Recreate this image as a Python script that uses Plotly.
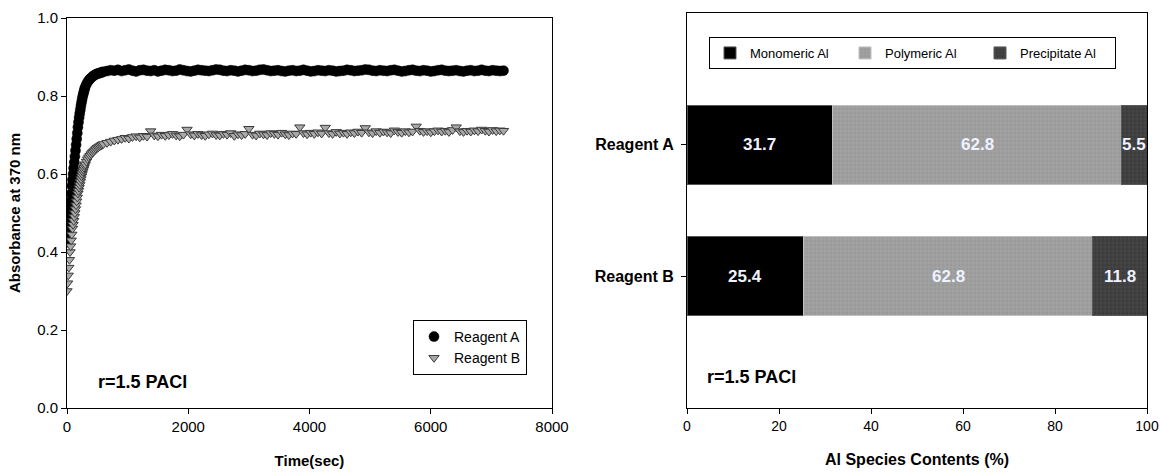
import plotly.graph_objects as go

# ---- Absorbance kinetics (left panel) ----
time_sec = [
    0, 10, 20, 30, 40, 50, 60, 70, 80, 90, 100, 110, 120, 130, 140, 150,
    160, 170, 180, 190, 200, 210, 220, 230, 240, 250, 260, 270, 280, 290, 300,
    320, 340, 360, 380, 400, 420, 440, 460, 480, 500, 520, 540, 560, 580, 600,
    660, 720, 780, 840, 900, 960, 1020, 1080, 1140, 1200,
    1260, 1320, 1380, 1440, 1500, 1560, 1620, 1680, 1740, 1800,
    1860, 1920, 1980, 2040, 2100, 2160, 2220, 2280, 2340, 2400,
    2460, 2520, 2580, 2640, 2700, 2760, 2820, 2880, 2940, 3000,
    3060, 3120, 3180, 3240, 3300, 3360, 3420, 3480, 3540, 3600,
    3660, 3720, 3780, 3840, 3900, 3960, 4020, 4080, 4140, 4200,
    4260, 4320, 4380, 4440, 4500, 4560, 4620, 4680, 4740, 4800,
    4860, 4920, 4980, 5040, 5100, 5160, 5220, 5280, 5340, 5400,
    5460, 5520, 5580, 5640, 5700, 5760, 5820, 5880, 5940, 6000,
    6060, 6120, 6180, 6240, 6300, 6360, 6420, 6480, 6540, 6600,
    6660, 6720, 6780, 6840, 6900, 6960, 7020, 7080, 7140, 7200,
]

absorb_a = [
    0.425, 0.43, 0.45, 0.47, 0.49, 0.51, 0.53, 0.55, 0.57, 0.585, 0.60, 0.615,
    0.63, 0.645, 0.66, 0.675, 0.69, 0.705, 0.72, 0.733, 0.745, 0.755, 0.765, 0.775,
    0.784, 0.792, 0.80, 0.806, 0.812, 0.818, 0.823,
    0.830, 0.836, 0.840, 0.844, 0.847, 0.850, 0.852, 0.854, 0.856, 0.857, 0.858,
    0.859, 0.860, 0.861, 0.862,
    0.864, 0.866, 0.865, 0.867, 0.864, 0.866, 0.868, 0.865, 0.863, 0.866,
    0.867, 0.865, 0.864, 0.866, 0.863, 0.865, 0.867, 0.866, 0.864, 0.865,
    0.868, 0.866, 0.864, 0.863, 0.865, 0.867, 0.866, 0.865, 0.864, 0.866,
    0.868, 0.867, 0.865, 0.864, 0.866, 0.865, 0.863, 0.865, 0.867, 0.866,
    0.864, 0.865, 0.867, 0.868, 0.866, 0.864, 0.865, 0.866, 0.864, 0.863,
    0.865, 0.866, 0.864, 0.865, 0.867, 0.865, 0.863, 0.864, 0.866, 0.865,
    0.864, 0.866, 0.865, 0.863, 0.864, 0.865, 0.867, 0.866, 0.864, 0.865,
    0.866, 0.868, 0.867, 0.865, 0.864, 0.866, 0.865, 0.864, 0.866, 0.867,
    0.865, 0.863, 0.864, 0.866, 0.867, 0.865, 0.864, 0.866, 0.865, 0.863,
    0.864, 0.866, 0.867, 0.865, 0.864, 0.865, 0.866, 0.864, 0.863, 0.865,
    0.866, 0.864, 0.865, 0.867, 0.865, 0.864, 0.866, 0.865, 0.864, 0.865,
]

absorb_b = [
    0.30, 0.32, 0.34, 0.36, 0.38, 0.40, 0.415, 0.43, 0.445, 0.46, 0.47, 0.48,
    0.49, 0.50, 0.51, 0.52, 0.53, 0.54, 0.55, 0.557, 0.565, 0.572, 0.58, 0.587,
    0.594, 0.60, 0.606, 0.611, 0.616, 0.621, 0.625,
    0.632, 0.638, 0.643, 0.647, 0.651, 0.655, 0.658, 0.661, 0.664, 0.667, 0.669,
    0.671, 0.673, 0.675, 0.677,
    0.680, 0.683, 0.686, 0.688, 0.690, 0.693, 0.691, 0.695, 0.697, 0.694,
    0.698, 0.696, 0.710, 0.699, 0.697, 0.701, 0.698, 0.700, 0.703, 0.699,
    0.697, 0.701, 0.714, 0.702, 0.699, 0.703, 0.700, 0.698, 0.702, 0.704,
    0.700, 0.699, 0.703, 0.701, 0.705, 0.698, 0.702, 0.700, 0.703, 0.716,
    0.701, 0.699, 0.704, 0.702, 0.700, 0.705, 0.703, 0.701, 0.706, 0.702,
    0.700, 0.704, 0.703, 0.720, 0.705, 0.702, 0.706, 0.703, 0.707, 0.704,
    0.719, 0.705, 0.703, 0.708, 0.704, 0.706, 0.703, 0.707, 0.705, 0.709,
    0.706, 0.718, 0.707, 0.705, 0.710, 0.706, 0.709, 0.707, 0.705, 0.712,
    0.708, 0.706, 0.710, 0.707, 0.709, 0.722, 0.711, 0.708, 0.710, 0.707,
    0.710, 0.712, 0.709, 0.711, 0.708, 0.713, 0.720, 0.710, 0.708, 0.711,
    0.709, 0.712, 0.710, 0.714, 0.711, 0.709, 0.713, 0.710, 0.712, 0.711,
]

x_ticks_left = [0, 2000, 4000, 6000, 8000]
y_ticks_left = [0.0, 0.2, 0.4, 0.6, 0.8, 1.0]

# ---- Al species distribution (right panel) ----
reagents = ["Reagent B", "Reagent A"]
monomeric = [25.4, 31.7]
polymeric = [62.8, 62.8]
precipitate = [11.8, 5.5]
x_ticks_right = [0, 20, 40, 60, 80, 100]

FONT = "Liberation Sans, Arial, sans-serif"
NARROW = "Liberation Sans Narrow, Arial Narrow, Liberation Sans, Arial, sans-serif"

fig = go.Figure()

fig.add_trace(go.Scatter(
    x=time_sec, y=absorb_a, mode="markers", name="Reagent A",
    marker=dict(symbol="circle", size=10, color="black",
                line=dict(color="black", width=0.5)),
    xaxis="x", yaxis="y", legend="legend",
))
fig.add_trace(go.Scatter(
    x=time_sec, y=absorb_b, mode="markers", name="Reagent B",
    marker=dict(symbol="triangle-down", size=9, color="#a9a9a9",
                line=dict(color="#3a3a3a", width=1)),
    xaxis="x", yaxis="y", legend="legend",
))

species = [
    ("Monomeric Al", monomeric,
     dict(color="black", line=dict(color="#555", width=1))),
    ("Polymeric Al", polymeric,
     dict(color="#a4a4a4", line=dict(color="#c0c0c0", width=1),
          pattern=dict(shape="+", fgcolor="#bdbdbd", bgcolor="#9a9a9a",
                       size=4, solidity=0.25))),
    ("Precipitate Al", precipitate,
     dict(color="#474747", line=dict(color="#5a5a5a", width=1),
          pattern=dict(shape="+", fgcolor="#606060", bgcolor="#3c3c3c",
                       size=4, solidity=0.25))),
]
for name, vals, mk in species:
    fig.add_trace(go.Bar(
        y=reagents, x=vals, name=name, orientation="h", width=0.6,
        marker=mk, xaxis="x2", yaxis="y2", legend="legend2",
        hoverinfo="x+name",
    ))

# value labels centred on each stacked segment
annotations = []
for i, r in enumerate(reagents):
    left = 0.0
    for _, vals, _ in species:
        v = vals[i]
        annotations.append(dict(
            x=left + v / 2, y=r, xref="x2", yref="y2", text=f"<b>{v:.1f}</b>",
            showarrow=False, font=dict(family=NARROW, size=17, color="#eef3ff"),
        ))
        left += v

annotations += [
    dict(x=96 / 1160, y=1 - 382 / 474, xref="paper", yref="paper",
         xanchor="left", yanchor="middle", text="<b>r=1.5 PACl</b>",
         showarrow=False, font=dict(family=FONT, size=18, color="black")),
    dict(x=705 / 1160, y=1 - 377 / 474, xref="paper", yref="paper",
         xanchor="left", yanchor="middle", text="<b>r=1.5 PACl</b>",
         showarrow=False, font=dict(family=NARROW, size=18, color="black")),
]

axis_common = dict(showline=True, linecolor="black", linewidth=1, mirror=True,
                   showgrid=False, zeroline=False, ticks="outside",
                   ticklen=5, tickcolor="black", tickwidth=1, automargin=False)

fig.update_layout(
    width=1160, height=474,
    margin=dict(l=0, r=0, t=0, b=0),
    paper_bgcolor="white", plot_bgcolor="white",
    font=dict(family=FONT, size=13, color="black"),
    barmode="stack",
    showlegend=True,
    xaxis=dict(domain=[67 / 1160, 552 / 1160], range=[0, 8000],
               tickvals=x_ticks_left, anchor="y",
               title=dict(text="<b>Time(sec)</b>", font=dict(size=15), standoff=21),
               tickfont=dict(size=15), **axis_common),
    yaxis=dict(domain=[1 - 408 / 474, 1 - 18 / 474], range=[0, 1.0],
               tickvals=y_ticks_left, tickformat=".1f", anchor="x",
               title=dict(text="<b>Absorbance at 370 nm</b>", font=dict(size=15), standoff=12),
               tickfont=dict(size=15), **axis_common),
    xaxis2=dict(domain=[687 / 1160, 1147 / 1160], range=[0, 100],
                tickvals=x_ticks_right, anchor="y2",
                title=dict(text="<b>Al Species Contents (%)</b>", font=dict(size=16, family=NARROW), standoff=21),
                tickfont=dict(size=14, family=NARROW), **axis_common),
    yaxis2=dict(domain=[1 - 408 / 474, 1 - 13 / 474], range=[-1, 2],
                type="category", categoryorder="array", categoryarray=reagents,
                anchor="x2", ticklabelstandoff=4,
                tickfont=dict(size=16, family=NARROW, weight="bold"), **axis_common),
    legend=dict(x=413 / 1160, y=1 - 320 / 474, xanchor="left", yanchor="top",
                bordercolor="black", borderwidth=1, bgcolor="white",
                font=dict(size=14, family=FONT), traceorder="normal"),
    legend2=dict(x=709 / 1160, y=1 - 37 / 474, xanchor="left", yanchor="top",
                 orientation="h", bordercolor="black", borderwidth=1, bgcolor="white",
                 entrywidth=90, itemwidth=30, traceorder="normal",
                 font=dict(size=13, family=NARROW)),
    annotations=annotations,
)

fig.write_html("out.html")
